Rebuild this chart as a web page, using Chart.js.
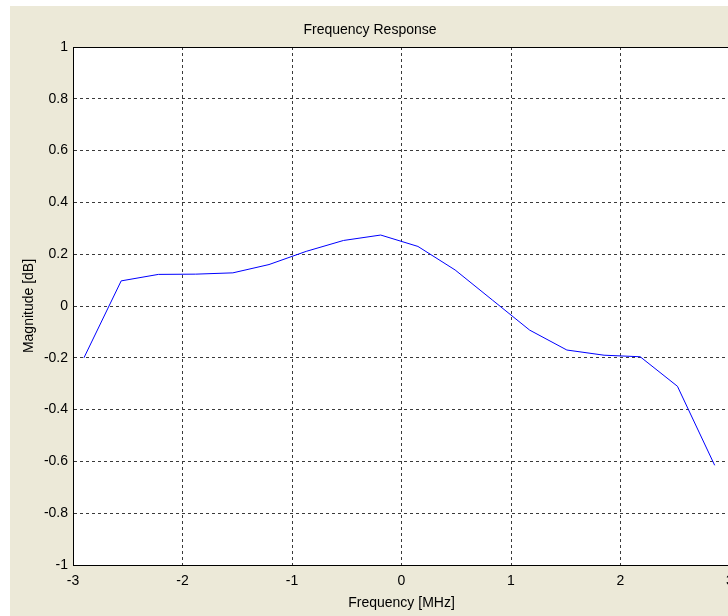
<!DOCTYPE html>
<html>
<head>
<meta charset="utf-8">
<title>Frequency Response</title>
<script src="https://cdn.jsdelivr.net/npm/chart.js@4/dist/chart.umd.min.js"></script>
<style>
  html, body { margin: 0; padding: 0; background: #ffffff; overflow: hidden; width: 728px; height: 616px; }
  #wrap { position: absolute; left: 10px; top: 6px; width: 740px; height: 610px; background: #ece9d8; }
</style>
</head>
<body>
<div id="wrap"><canvas id="freqChart" width="740" height="610"></canvas></div>
<script>
// values
const freq      = [-2.90, -2.56, -2.22, -1.88, -1.54, -1.21, -0.87, -0.53, -0.19, 0.15, 0.49, 0.83, 1.17, 1.51, 1.85, 2.18, 2.52, 2.86];
const magnitude = [-0.200, 0.097, 0.122, 0.123, 0.128, 0.160, 0.211, 0.253, 0.274, 0.230, 0.139, 0.023, -0.093, -0.170, -0.190, -0.196, -0.310, -0.615];

const xTicks = [-3, -2, -1, 0, 1, 2, 3];
const yTicks = [-1, -0.8, -0.6, -0.4, -0.2, 0, 0.2, 0.4, 0.6, 0.8, 1];

const FONT = '"Liberation Sans", Arial, sans-serif';

// white plot box on the grey figure background
const plotBackground = {
  id: 'plotBackground',
  beforeDraw(chart) {
    const { ctx, chartArea: a } = chart;
    ctx.save();
    ctx.fillStyle = '#ffffff';
    ctx.fillRect(a.left, a.top, a.right - a.left, a.bottom - a.top);
    ctx.restore();
  }
};

const gridStyle = { color: '#3a3a3a', lineWidth: 1, drawTicks: false };
const axisBorder = { display: true, color: '#000000', width: 1, dash: [3, 3] };

new Chart(document.getElementById('freqChart'), {
  type: 'line',
  data: {
    datasets: [{
      data: freq.map((f, i) => ({ x: f, y: magnitude[i] })),
      borderColor: '#0000ff',
      borderWidth: 1,
      pointRadius: 0,
      tension: 0,
      fill: false
    }]
  },
  options: {
    responsive: false,
    animation: false,
    layout: { padding: { left: 0, top: 0, right: 20, bottom: 0 } },
    plugins: {
      legend: { display: false },
      tooltip: { enabled: false },
      title: {
        display: true,
        text: 'Frequency Response',
        color: '#000000',
        font: { family: FONT, size: 14, weight: 'normal' },
        padding: { top: 15.5, bottom: 8.7 }
      }
    },
    scales: {
      x: {
        type: 'linear',
        min: -3, max: 3,
        afterBuildTicks: s => { s.ticks = xTicks.map(v => ({ value: v })); },
        afterFit: s => { s.height = 51; },
        grid: gridStyle,
        border: axisBorder,
        ticks: { color: '#000000', padding: 8, maxRotation: 0, font: { family: FONT, size: 14 }, callback: v => String(v) },
        title: { display: true, text: 'Frequency [MHz]', color: '#000000', font: { family: FONT, size: 14 }, padding: { top: 0, bottom: 4.6 } }
      },
      xTop: {
        type: 'linear',
        position: 'top',
        min: -3, max: 3,
        afterFit: s => { s.height = 0; },
        grid: { display: false, drawTicks: false },
        border: { display: true, color: '#000000', width: 1 },
        ticks: { display: false }
      },
      y: {
        type: 'linear',
        min: -1, max: 1,
        afterBuildTicks: s => { s.ticks = yTicks.map(v => ({ value: v })); },
        afterFit: s => { s.width = 63; },
        grid: gridStyle,
        border: axisBorder,
        ticks: { color: '#000000', padding: 5, font: { family: FONT, size: 14 }, callback: v => String(Math.round(v * 10) / 10) },
        title: { display: true, text: 'Magnitude [dB]', color: '#000000', font: { family: FONT, size: 14 }, padding: { top: 10.6, bottom: 0 } }
      }
    }
  },
  plugins: [plotBackground]
});
</script>
</body>
</html>
